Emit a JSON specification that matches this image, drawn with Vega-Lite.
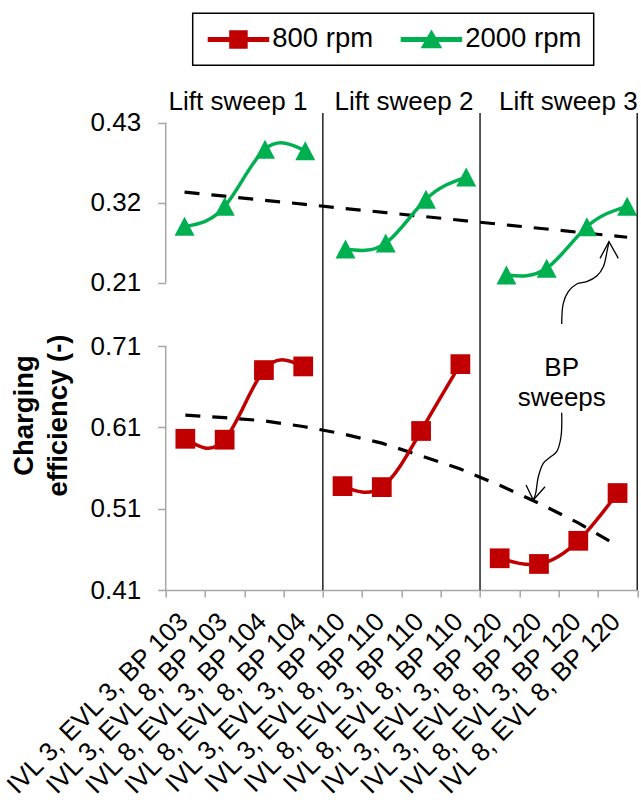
{
  "$schema": "https://vega.github.io/schema/vega-lite/v6.json",
  "width": 471.5,
  "height": 477,
  "autosize": "none",
  "padding": {"left": 165.7, "top": 113, "right": 3.8, "bottom": 215},
  "background": "white",
  "config": {
    "view": {"stroke": null},
    "font": "Liberation Sans",
    "axis": {"grid": false, "labelFont": "Liberation Sans", "labelFontSize": 26, "labelColor": "black", "domainColor": "#A6A6A6", "tickColor": "#A6A6A6", "domainWidth": 1.5, "tickWidth": 1.5, "tickSize": 8, "labelLimit": 0}
  },
  "datasets": {
    "rpm2000": [
      {"idx": 1, "setting": "IVL 3, EVL 3, BP 103", "sweep": "Lift sweep 1", "rpm": "2000 rpm", "eff": 0.2875, "trend": 0.3346},
      {"idx": 2, "setting": "IVL 3, EVL 8, BP 103", "sweep": "Lift sweep 1", "rpm": "2000 rpm", "eff": 0.315, "trend": 0.329},
      {"idx": 3, "setting": "IVL 8, EVL 3, BP 104", "sweep": "Lift sweep 1", "rpm": "2000 rpm", "eff": 0.3936, "trend": 0.3233},
      {"idx": 4, "setting": "IVL 8, EVL 8, BP 104", "sweep": "Lift sweep 1", "rpm": "2000 rpm", "eff": 0.3914, "trend": 0.3177},
      {"idx": 5, "setting": "IVL 3, EVL 3, BP 110", "sweep": "Lift sweep 2", "rpm": "2000 rpm", "eff": 0.2563, "trend": 0.312},
      {"idx": 6, "setting": "IVL 3, EVL 8, BP 110", "sweep": "Lift sweep 2", "rpm": "2000 rpm", "eff": 0.2645, "trend": 0.3064},
      {"idx": 7, "setting": "IVL 8, EVL 3, BP 110", "sweep": "Lift sweep 2", "rpm": "2000 rpm", "eff": 0.3247, "trend": 0.3007},
      {"idx": 8, "setting": "IVL 8, EVL 8, BP 110", "sweep": "Lift sweep 2", "rpm": "2000 rpm", "eff": 0.3553, "trend": 0.2951},
      {"idx": 9, "setting": "IVL 3, EVL 3, BP 120", "sweep": "Lift sweep 3", "rpm": "2000 rpm", "eff": 0.2206, "trend": 0.2894},
      {"idx": 10, "setting": "IVL 3, EVL 8, BP 120", "sweep": "Lift sweep 3", "rpm": "2000 rpm", "eff": 0.2298, "trend": 0.2838},
      {"idx": 11, "setting": "IVL 8, EVL 3, BP 120", "sweep": "Lift sweep 3", "rpm": "2000 rpm", "eff": 0.287, "trend": 0.2781},
      {"idx": 12, "setting": "IVL 8, EVL 8, BP 120", "sweep": "Lift sweep 3", "rpm": "2000 rpm", "eff": 0.315, "trend": 0.2725}
    ],
    "rpm800": [
      {"idx": 1, "setting": "IVL 3, EVL 3, BP 103", "sweep": "Lift sweep 1", "rpm": "800 rpm", "eff": 0.5959, "trend": 0.625},
      {"idx": 2, "setting": "IVL 3, EVL 8, BP 103", "sweep": "Lift sweep 1", "rpm": "800 rpm", "eff": 0.5948, "trend": 0.622},
      {"idx": 3, "setting": "IVL 8, EVL 3, BP 104", "sweep": "Lift sweep 1", "rpm": "800 rpm", "eff": 0.6804, "trend": 0.618},
      {"idx": 4, "setting": "IVL 8, EVL 8, BP 104", "sweep": "Lift sweep 1", "rpm": "800 rpm", "eff": 0.6849, "trend": 0.611},
      {"idx": 5, "setting": "IVL 3, EVL 3, BP 110", "sweep": "Lift sweep 2", "rpm": "800 rpm", "eff": 0.5377, "trend": 0.602},
      {"idx": 6, "setting": "IVL 3, EVL 8, BP 110", "sweep": "Lift sweep 2", "rpm": "800 rpm", "eff": 0.5365, "trend": 0.5906},
      {"idx": 7, "setting": "IVL 8, EVL 3, BP 110", "sweep": "Lift sweep 2", "rpm": "800 rpm", "eff": 0.6055, "trend": 0.575},
      {"idx": 8, "setting": "IVL 8, EVL 8, BP 110", "sweep": "Lift sweep 2", "rpm": "800 rpm", "eff": 0.6877, "trend": 0.5587},
      {"idx": 9, "setting": "IVL 3, EVL 3, BP 120", "sweep": "Lift sweep 3", "rpm": "800 rpm", "eff": 0.449, "trend": 0.5387},
      {"idx": 10, "setting": "IVL 3, EVL 8, BP 120", "sweep": "Lift sweep 3", "rpm": "800 rpm", "eff": 0.442, "trend": 0.5167},
      {"idx": 11, "setting": "IVL 8, EVL 3, BP 120", "sweep": "Lift sweep 3", "rpm": "800 rpm", "eff": 0.4705, "trend": 0.4925},
      {"idx": 12, "setting": "IVL 8, EVL 8, BP 120", "sweep": "Lift sweep 3", "rpm": "800 rpm", "eff": 0.5292, "trend": 0.4646}
    ],
    "sweepLabels": [
      {"label": "Lift sweep 1", "pos": 2.328, "level": 0.4481},
      {"label": "Lift sweep 2", "pos": 6.454, "level": 0.4481},
      {"label": "Lift sweep 3", "pos": 10.538, "level": 0.4481}
    ],
    "note": [
      {"label": "BP\nsweeps", "pos": 10.374, "level": 0.0923}
    ],
    "arrows": [
      {"arrow": "up", "part": "curve", "seq": 1, "pos": 10.374, "level": 0.1532},
      {"arrow": "up", "part": "curve", "seq": 2, "pos": 10.413, "level": 0.1817},
      {"arrow": "up", "part": "curve", "seq": 3, "pos": 10.538, "level": 0.1976},
      {"arrow": "up", "part": "curve", "seq": 4, "pos": 10.747, "level": 0.2082},
      {"arrow": "up", "part": "curve", "seq": 5, "pos": 10.995, "level": 0.2114},
      {"arrow": "up", "part": "curve", "seq": 6, "pos": 11.244, "level": 0.2192},
      {"arrow": "up", "part": "curve", "seq": 7, "pos": 11.408, "level": 0.232},
      {"arrow": "up", "part": "curve", "seq": 8, "pos": 11.507, "level": 0.255},
      {"arrow": "up", "part": "curve", "seq": 9, "pos": 11.549, "level": 0.2664},
      {"arrow": "up", "part": "head", "seq": 1, "pos": 11.326, "level": 0.2435},
      {"arrow": "up", "part": "head", "seq": 2, "pos": 11.549, "level": 0.2664},
      {"arrow": "up", "part": "head", "seq": 3, "pos": 11.781, "level": 0.2435},
      {"arrow": "down", "part": "curve", "seq": 1, "pos": 10.374, "level": 0.0313},
      {"arrow": "down", "part": "curve", "seq": 2, "pos": 10.356, "level": -0.0018},
      {"arrow": "down", "part": "curve", "seq": 3, "pos": 10.249, "level": -0.0224},
      {"arrow": "down", "part": "curve", "seq": 4, "pos": 10.083, "level": -0.0301},
      {"arrow": "down", "part": "curve", "seq": 5, "pos": 9.916, "level": -0.0383},
      {"arrow": "down", "part": "curve", "seq": 6, "pos": 9.792, "level": -0.0568},
      {"arrow": "down", "part": "curve", "seq": 7, "pos": 9.727, "level": -0.0796},
      {"arrow": "down", "part": "curve", "seq": 8, "pos": 9.668, "level": -0.0888},
      {"arrow": "down", "part": "head", "seq": 1, "pos": 9.487, "level": -0.0682},
      {"arrow": "down", "part": "head", "seq": 2, "pos": 9.668, "level": -0.0888},
      {"arrow": "down", "part": "head", "seq": 3, "pos": 9.959, "level": -0.0705}
    ]
  },
  "layer": [
    {
      "layer": [
        {
          "data": {"values": [{"lo": 0.21, "hi": 0.43, "edge": 0.5315}]},
          "mark": {"type": "rule", "color": "#A6A6A6", "strokeWidth": 1.5},
          "encoding": {
            "x": {"field": "edge", "type": "quantitative", "scale": {"domain": [0.5315, 12.25], "nice": false, "zero": false}, "axis": null},
            "y": {"field": "lo", "type": "quantitative", "scale": {"domain": [-0.21254, 0.44334], "nice": false, "zero": false},
                  "axis": {"orient": "left", "values": [0.21, 0.32, 0.43], "format": ".2f", "domain": false, "title": null, "labelPadding": 17}},
            "y2": {"field": "hi"}
          }
        },
        {
          "data": {"name": "rpm2000"},
          "mark": {"type": "line", "color": "black", "strokeWidth": 3.2, "strokeDash": [15, 12]},
          "encoding": {
            "x": {"field": "idx", "type": "quantitative", "scale": {"domain": [0.5315, 12.25], "nice": false, "zero": false}, "axis": null},
            "y": {"field": "trend", "type": "quantitative", "scale": {"domain": [-0.21254, 0.44334], "nice": false, "zero": false}}
          }
        },
        {
          "data": {"name": "rpm2000"},
          "mark": {"type": "line", "interpolate": "natural", "strokeWidth": 3.5},
          "encoding": {
            "x": {"field": "idx", "type": "quantitative", "scale": {"domain": [0.5315, 12.25], "nice": false, "zero": false}, "axis": null},
            "y": {"field": "eff", "type": "quantitative", "scale": {"domain": [-0.21254, 0.44334], "nice": false, "zero": false}},
            "detail": {"field": "sweep"},
            "color": {
              "field": "rpm", "type": "nominal",
              "scale": {"domain": ["800 rpm", "2000 rpm"], "range": ["#C00000", "#00B050"]},
              "legend": {
                "orient": "none", "legendX": 27, "legendY": -99.7, "direction": "horizontal", "title": null,
                "labelFont": "Liberation Sans", "labelFontSize": 27.5, "labelColor": "black", "labelOffset": 40,
                "symbolSize": 400, "columnPadding": 24, "padding": 12,
                "strokeColor": "black", "fillColor": "white",
                "encode": {
                  "legend": {"update": {"strokeWidth": {"value": 1.5}}},
                  "symbols": {"update": {
                    "shape": {"signal": "datum.value === '800 rpm' ? 'M-1,-0.18H5V0.18H-1Z M1.15,-0.85H2.85V0.85H1.15Z' : 'M-1,-0.18H5V0.18H-1Z M2,-0.85L2.95,0.8L1.05,0.8Z'"},
                    "fill": {"signal": "datum.value === '800 rpm' ? '#C00000' : '#00B050'"},
                    "stroke": {"value": "transparent"},
                    "opacity": {"value": 1},
                    "fillOpacity": {"value": 1}
                  }}
                }
              }
            }
          }
        },
        {
          "data": {"name": "rpm2000"},
          "mark": {"type": "point", "filled": true, "opacity": 1, "size": 400, "shape": "M0,-0.95L1,0.95L-1,0.95Z"},
          "encoding": {
            "x": {"field": "idx", "type": "quantitative", "scale": {"domain": [0.5315, 12.25], "nice": false, "zero": false}, "axis": null},
            "y": {"field": "eff", "type": "quantitative", "scale": {"domain": [-0.21254, 0.44334], "nice": false, "zero": false}},
            "color": {"field": "rpm", "type": "nominal"}
          }
        },
        {
          "data": {"name": "sweepLabels"},
          "mark": {"type": "text", "fontSize": 26, "align": "center", "baseline": "alphabetic", "color": "black"},
          "encoding": {
            "x": {"field": "pos", "type": "quantitative", "scale": {"domain": [0.5315, 12.25], "nice": false, "zero": false}, "axis": null},
            "y": {"field": "level", "type": "quantitative", "scale": {"domain": [-0.21254, 0.44334], "nice": false, "zero": false}},
            "text": {"field": "label"}
          }
        },
        {
          "data": {"name": "note"},
          "mark": {"type": "text", "fontSize": 26, "align": "center", "baseline": "middle", "lineBreak": "\n", "lineHeight": 30, "color": "black"},
          "encoding": {
            "x": {"field": "pos", "type": "quantitative", "scale": {"domain": [0.5315, 12.25], "nice": false, "zero": false}, "axis": null},
            "y": {"field": "level", "type": "quantitative", "scale": {"domain": [-0.21254, 0.44334], "nice": false, "zero": false}},
            "text": {"field": "label"}
          }
        },
        {
          "data": {"name": "arrows"},
          "transform": [{"filter": "datum.part === 'curve'"}],
          "mark": {"type": "line", "color": "black", "strokeWidth": 1.3, "interpolate": "catmull-rom"},
          "encoding": {
            "x": {"field": "pos", "type": "quantitative", "scale": {"domain": [0.5315, 12.25], "nice": false, "zero": false}, "axis": null},
            "y": {"field": "level", "type": "quantitative", "scale": {"domain": [-0.21254, 0.44334], "nice": false, "zero": false}},
            "detail": {"field": "arrow"},
            "order": {"field": "seq"}
          }
        },
        {
          "data": {"name": "arrows"},
          "transform": [{"filter": "datum.part === 'head'"}],
          "mark": {"type": "line", "color": "black", "strokeWidth": 1.3},
          "encoding": {
            "x": {"field": "pos", "type": "quantitative", "scale": {"domain": [0.5315, 12.25], "nice": false, "zero": false}, "axis": null},
            "y": {"field": "level", "type": "quantitative", "scale": {"domain": [-0.21254, 0.44334], "nice": false, "zero": false}},
            "detail": {"field": "arrow"},
            "order": {"field": "seq"}
          }
        }
      ]
    },
    {
      "layer": [
        {
          "data": {"name": "rpm800"},
          "transform": [{"filter": "datum.idx % 4 === 0"}],
          "mark": {"type": "rule", "color": "black", "strokeWidth": 1.3},
          "encoding": {
            "x": {"field": "setting", "type": "nominal", "bandPosition": 1,
                  "scale": {"type": "band", "domain": ["IVL 3, EVL 3, BP 103", "IVL 3, EVL 8, BP 103", "IVL 8, EVL 3, BP 104", "IVL 8, EVL 8, BP 104", "IVL 3, EVL 3, BP 110", "IVL 3, EVL 8, BP 110", "IVL 8, EVL 3, BP 110", "IVL 8, EVL 8, BP 110", "IVL 3, EVL 3, BP 120", "IVL 3, EVL 8, BP 120", "IVL 8, EVL 3, BP 120", "IVL 8, EVL 8, BP 120"], "paddingInner": 0, "paddingOuter": 0},
                  "axis": {"orient": "bottom", "title": null, "tickBand": "extent", "tickSize": 7, "labelAngle": -45, "labelAlign": "right", "labelBaseline": "middle", "labelPadding": 20, "labelOffset": -2, "labelOverlap": false, "labelBound": false, "labelFlush": false, "labelLimit": 0}}
          }
        },
        {
          "data": {"name": "rpm800"},
          "transform": [{"filter": "datum.idx === 1"}],
          "mark": {"type": "rule", "color": "#A6A6A6", "strokeWidth": 1.5},
          "encoding": {
            "x": {"field": "setting", "type": "nominal", "bandPosition": 0,
                  "scale": {"type": "band", "domain": ["IVL 3, EVL 3, BP 103", "IVL 3, EVL 8, BP 103", "IVL 8, EVL 3, BP 104", "IVL 8, EVL 8, BP 104", "IVL 3, EVL 3, BP 110", "IVL 3, EVL 8, BP 110", "IVL 8, EVL 3, BP 110", "IVL 8, EVL 8, BP 110", "IVL 3, EVL 3, BP 120", "IVL 3, EVL 8, BP 120", "IVL 8, EVL 3, BP 120", "IVL 8, EVL 8, BP 120"], "paddingInner": 0, "paddingOuter": 0}},
            "y": {"datum": 0.41, "type": "quantitative", "scale": {"domain": [0.41, 0.99648], "nice": false, "zero": false},
                  "axis": {"orient": "left", "values": [0.41, 0.51, 0.61, 0.71], "format": ".2f", "domain": false, "labelPadding": 17,
                           "title": ["Charging", "efficiency (-)"], "titleFont": "Liberation Sans", "titleFontSize": 27.5, "titleFontWeight": "bold", "titleColor": "black",
                           "titleLineHeight": 34, "titleAngle": -90, "titleX": -141.7, "titleY": 302, "titleAlign": "center", "titleBaseline": "middle"}},
            "y2": {"datum": 0.71}
          }
        },
        {
          "data": {"name": "rpm800"},
          "mark": {"type": "line", "color": "black", "strokeWidth": 3.2, "strokeDash": [15, 12]},
          "encoding": {
            "x": {"field": "setting", "type": "nominal",
                  "scale": {"type": "band", "domain": ["IVL 3, EVL 3, BP 103", "IVL 3, EVL 8, BP 103", "IVL 8, EVL 3, BP 104", "IVL 8, EVL 8, BP 104", "IVL 3, EVL 3, BP 110", "IVL 3, EVL 8, BP 110", "IVL 8, EVL 3, BP 110", "IVL 8, EVL 8, BP 110", "IVL 3, EVL 3, BP 120", "IVL 3, EVL 8, BP 120", "IVL 8, EVL 3, BP 120", "IVL 8, EVL 8, BP 120"], "paddingInner": 0, "paddingOuter": 0}},
            "y": {"field": "trend", "type": "quantitative", "scale": {"domain": [0.41, 0.99648], "nice": false, "zero": false}}
          }
        },
        {
          "data": {"name": "rpm800"},
          "mark": {"type": "line", "interpolate": "natural", "strokeWidth": 3.5},
          "encoding": {
            "x": {"field": "setting", "type": "nominal",
                  "scale": {"type": "band", "domain": ["IVL 3, EVL 3, BP 103", "IVL 3, EVL 8, BP 103", "IVL 8, EVL 3, BP 104", "IVL 8, EVL 8, BP 104", "IVL 3, EVL 3, BP 110", "IVL 3, EVL 8, BP 110", "IVL 8, EVL 3, BP 110", "IVL 8, EVL 8, BP 110", "IVL 3, EVL 3, BP 120", "IVL 3, EVL 8, BP 120", "IVL 8, EVL 3, BP 120", "IVL 8, EVL 8, BP 120"], "paddingInner": 0, "paddingOuter": 0}},
            "y": {"field": "eff", "type": "quantitative", "scale": {"domain": [0.41, 0.99648], "nice": false, "zero": false}},
            "detail": {"field": "sweep"},
            "color": {"field": "rpm", "type": "nominal"}
          }
        },
        {
          "data": {"name": "rpm800"},
          "mark": {"type": "point", "filled": true, "opacity": 1, "size": 390, "shape": "square"},
          "encoding": {
            "x": {"field": "setting", "type": "nominal",
                  "scale": {"type": "band", "domain": ["IVL 3, EVL 3, BP 103", "IVL 3, EVL 8, BP 103", "IVL 8, EVL 3, BP 104", "IVL 8, EVL 8, BP 104", "IVL 3, EVL 3, BP 110", "IVL 3, EVL 8, BP 110", "IVL 8, EVL 3, BP 110", "IVL 8, EVL 8, BP 110", "IVL 3, EVL 3, BP 120", "IVL 3, EVL 8, BP 120", "IVL 8, EVL 3, BP 120", "IVL 8, EVL 8, BP 120"], "paddingInner": 0, "paddingOuter": 0}},
            "y": {"field": "eff", "type": "quantitative", "scale": {"domain": [0.41, 0.99648], "nice": false, "zero": false}},
            "color": {"field": "rpm", "type": "nominal"}
          }
        }
      ]
    }
  ],
  "resolve": {"scale": {"x": "independent", "y": "independent"}}
}
